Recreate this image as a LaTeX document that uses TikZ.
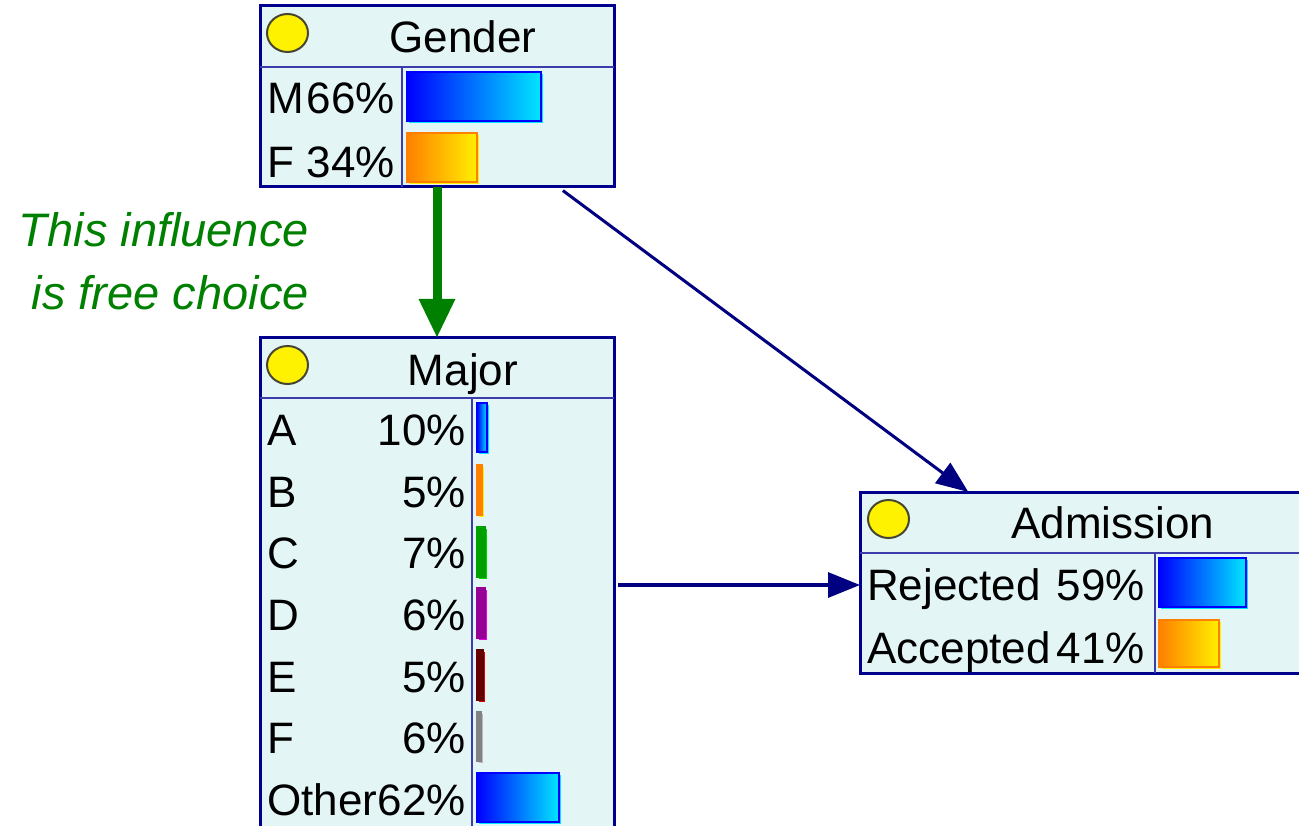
\documentclass[tikz,border=0pt]{standalone}
\usepackage{fontspec}
\setmainfont{Liberation Sans}
\usetikzlibrary{arrows.meta,calc,shapes.geometric}

\definecolor{boxfill}{RGB}{227,245,245}
\definecolor{boxedge}{RGB}{0,0,140}
\definecolor{gridline}{RGB}{60,60,170}
\definecolor{linknavy}{RGB}{0,0,128}
\definecolor{choicegreen}{RGB}{0,128,0}
\definecolor{lampedge}{RGB}{70,70,50}
\definecolor{barblue}{RGB}{0,0,255}
\definecolor{barcyan}{RGB}{0,230,255}
\definecolor{barorange}{RGB}{255,128,0}
\definecolor{baryellow}{RGB}{255,240,0}
\definecolor{bargreen}{RGB}{0,160,0}
\definecolor{barlgreen}{RGB}{0,210,0}
\definecolor{barpurple}{RGB}{150,0,150}
\definecolor{barmagenta}{RGB}{230,0,230}
\definecolor{bardred}{RGB}{100,0,0}
\definecolor{barred}{RGB}{220,0,0}
\definecolor{bargrey}{RGB}{130,130,130}
\definecolor{barlgrey}{RGB}{185,185,185}

% one probability bar: corners, shading left/right, edge colour, shadow colour
\newcommand\probbar[8]{%
  \fill[#8] ($(#1,#2)+(2,2)$) rectangle ($(#3,#4)+(2,2)$);
  \shade[left color=#5,right color=#6] (#1,#2) rectangle (#3,#4);
  \draw[#7,line width=2pt] (#1,#2) rectangle (#3,#4);
}

\tikzset{
  netbox/.style={draw=boxedge,fill=boxfill,line width=3pt,rectangle,
    inner sep=0pt,outer sep=0pt},
  lamp/.style={draw=lampedge,fill=yellow,line width=2pt,ellipse,
    minimum width=41pt,minimum height=38pt,inner sep=0pt},
  title/.style={inner sep=0pt,anchor=base,font=\fontsize{44}{52}\selectfont},
  state/.style={inner sep=0pt,anchor=base west,font=\fontsize{44}{52}\selectfont},
  prob/.style={inner sep=0pt,anchor=base east,font=\fontsize{44}{52}\selectfont},
  grid/.style={draw=gridline,line width=1.5pt},
  note/.style={inner sep=0pt,anchor=base east,text=choicegreen,
    font=\fontsize{47}{55}\selectfont\itshape},
  freelink/.style={draw=choicegreen,line width=9pt,
    -{Triangle[length=39pt,width=34pt]}},
  link/.style={draw=linknavy,line width=3pt,
    -{Triangle[length=32pt,width=25pt]}},
}

\begin{document}
\begin{tikzpicture}[x=1pt,y=-1pt]
\useasboundingbox (0,0) rectangle (1299,826);
\clip (0,0) rectangle (1299,826);
\fill[white] (0,0) rectangle (1299,826);

% ---------- Gender ----------
\node[netbox,minimum width=354pt,minimum height=181pt] (gender) at (437,96.5) {};
\draw[grid] (260,67) -- (614,67) (402,67) -- (402,187);
\node[lamp] (genderlamp) at (287.5,33) {};
\node[title] (gendertitle) at (463,53) {Gender};
\node[state] (gm) at (267,114) {M};
\node[prob] (gmp) at (395,114) {66\%};
\node[state] (gf) at (267,178) {F};
\node[prob] (gfp) at (395,178) {34\%};
\probbar{407}{72}{541}{121}{barblue}{barcyan}{barblue}{barcyan}
\probbar{407}{133}{477}{182}{barorange}{baryellow}{barorange}{baryellow}

% ---------- Major ----------
\node[netbox,minimum width=354pt,minimum height=494pt] (major) at (437,585) {};
\draw[grid] (260,398) -- (614,398) (472,398) -- (472,832);
\node[lamp] (majorlamp) at (287.5,365) {};
\node[title] (majortitle) at (463,385) {Major};
\foreach \lab/\pc/\yb [count=\i] in
  {A/10/445, B/5/507, C/7/568, D/6/630, E/5/692, F/6/753, Other/62/815}{
  \node[state] (ms\i) at (267,\yb) {\lab};
  \node[prob] (mp\i) at (466,\yb) {\pc\%};
}
\probbar{477}{403}{487}{452}{barblue}{barcyan}{barblue}{barcyan}
\probbar{477}{465}{482}{515}{barorange}{barorange}{barorange}{baryellow}
\probbar{477}{527}{485}{577}{bargreen}{bargreen}{bargreen}{barlgreen}
\probbar{477}{588}{485}{638}{barpurple}{barpurple}{barpurple}{barmagenta}
\probbar{477}{650}{483}{700}{bardred}{bardred}{bardred}{barred}
\probbar{477}{712}{481}{761}{bargrey}{bargrey}{bargrey}{barlgrey}
\probbar{477}{773}{559}{822}{barblue}{barcyan}{barblue}{barcyan}

% ---------- Admission ----------
\node[netbox,minimum width=458pt,minimum height=181pt] (admission) at (1089,582.5) {};
\draw[grid] (860,553) -- (1318,553) (1155,553) -- (1155,673);
\node[lamp] (admlamp) at (888.5,519) {};
\node[title] (admtitle) at (1113,538) {Admission};
\node[state] (ar) at (867,600) {Rejected};
\node[prob] (arp) at (1145,600) {59\%};
\node[state] (aa) at (867,663) {Accepted};
\node[prob] (aap) at (1145,663) {41\%};
\probbar{1159}{558}{1246}{607}{barblue}{barcyan}{barblue}{barcyan}
\probbar{1159}{620}{1219}{667}{barorange}{baryellow}{barorange}{baryellow}

% ---------- note on the free-choice link ----------
\node[note] (note1) at (309,247) {This influence};
\node[note] (note2) at (309,310) {is free choice};

% ---------- links ----------
\draw[freelink] (gender.south) -- (major.north);
\draw[link,shorten <=6pt] (gender) -- (admission);
\draw[link,line width=3.3pt,shorten <=4pt] (major.east) -- (major.east -| admission.west);
\end{tikzpicture}
\end{document}
